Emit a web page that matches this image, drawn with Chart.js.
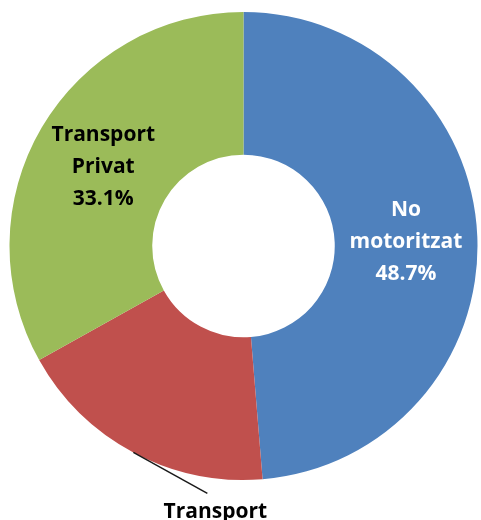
<!DOCTYPE html>
<html>
<head>
<meta charset="utf-8">
<script src="https://cdn.jsdelivr.net/npm/chart.js@4/dist/chart.umd.min.js"></script>
<style>
  html, body { margin: 0; padding: 0; background: #fff; }
  #wrap { width: 481px; height: 520px; position: relative; }
</style>
</head>
<body>
<div id="wrap"><canvas id="modeChart"></canvas></div>
<script>
const categories = ["No motoritzat", "Transport públic", "Transport Privat"];
const shares = [48.7, 18.2, 33.1];
const sliceColors = ["#4F81BD", "#C0504D", "#9BBB59"];

// etiquetes: dins del sector o fora amb línia guia
const sliceLabels = {
  id: "sliceLabels",
  afterDatasetsDraw(chart) {
    const { ctx } = chart;
    const arcs = chart.getDatasetMeta(0).data;
    ctx.save();
    ctx.font = "700 21px 'Open Sans'";
    ctx.textAlign = "center";
    ctx.textBaseline = "middle";
    arcs.forEach((arc, i) => {
      const words = categories[i].split(" ");
      const lines = [...words, shares[i].toFixed(1) + "%"];
      if (i === 1) {
        // sector petit: etiqueta a fora
        const mid = (arc.startAngle + arc.endAngle) / 2;
        const sx = arc.x + Math.cos(mid) * arc.outerRadius;
        const sy = arc.y + Math.sin(mid) * arc.outerRadius;
        const ex = sx + 74, ey = sy + 41;
        ctx.strokeStyle = "#1a1a1a";
        ctx.lineWidth = 1.5;
        ctx.beginPath();
        ctx.moveTo(sx, sy);
        ctx.lineTo(ex, ey);
        ctx.stroke();
        ctx.fillStyle = "#000";
        lines.forEach((t, k) => ctx.fillText(t, ex + 8, ey + 19 + k * 31));
      } else {
        const p = arc.getCenterPoint();
        ctx.fillStyle = i === 0 ? "#fff" : "#000";
        lines.forEach((t, k) => ctx.fillText(t, p.x, p.y + 3 + (k - 1) * 32));
      }
    });
    ctx.restore();
  }
};

new Chart(document.getElementById("modeChart"), {
  type: "doughnut",
  data: {
    labels: categories,
    datasets: [{
      data: shares,
      backgroundColor: sliceColors,
      borderWidth: 0,
    }],
  },
  options: {
    responsive: true,
    maintainAspectRatio: false,
    animation: false,
    events: [],
    cutout: "39%",
    layout: { padding: { top: 12, bottom: 40, left: 9, right: 3 } },
    plugins: { legend: { display: false }, tooltip: { enabled: false } },
  },
  plugins: [sliceLabels],
});
</script>
</body>
</html>
